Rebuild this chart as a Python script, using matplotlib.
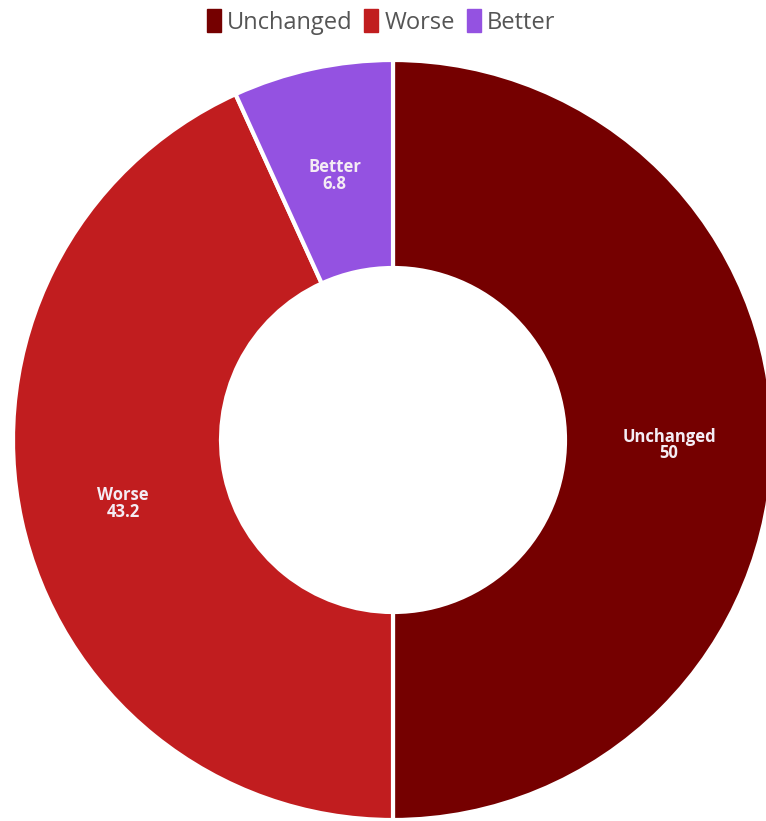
import numpy as np
import matplotlib.pyplot as plt
from matplotlib.patches import Patch

# share of responses per outcome (sums to 100)
categories = ["Unchanged", "Worse", "Better"]
values = [50, 43.2, 6.8]
colors = ["#750000", "#c11d1f", "#9452e1"]

plt.rcParams['font.family'] = ['Open Sans', 'DejaVu Sans']

W, H = 766, 821
fig = plt.figure(figsize=(W / 100, H / 100), dpi=100)
ax = fig.add_axes([0, 0, 1, 1])

cx, cy = 393, H - 440
r_out = 380
ring = 208

wedges, _ = ax.pie(values, colors=colors, startangle=90, counterclock=False,
                   center=(cx, cy), radius=r_out, frame=True,
                   wedgeprops=dict(width=ring, edgecolor='white', linewidth=3,
                                   joinstyle='round'))
ax.set_xlim(0, W)
ax.set_ylim(0, H)
ax.set_aspect('equal')
ax.axis('off')

# label each slice in the middle of the ring
r_lab = r_out - ring / 2
for w, name, v in zip(wedges, categories, values):
    ang = np.deg2rad((w.theta1 + w.theta2) / 2)
    x = cx + r_lab * np.cos(ang)
    y = cy + r_lab * np.sin(ang)
    ax.text(x, y - 5, f"{name}\n{v:g}", ha='center', va='center', fontsize=12,
            fontweight='bold', color='#f4ecf4', linespacing=0.9)

handles = [Patch(facecolor=c, edgecolor=c, label=n) for c, n in zip(colors, categories)]
fig.legend(handles=handles, loc='center', bbox_to_anchor=(381 / W, 1 - 22 / H),
           ncol=3, frameon=False, fontsize=17, labelcolor='#555555',
           handlelength=0.6, handleheight=1.1, handletextpad=0.25, columnspacing=0.5)

fig.savefig("out.png", dpi=100)
